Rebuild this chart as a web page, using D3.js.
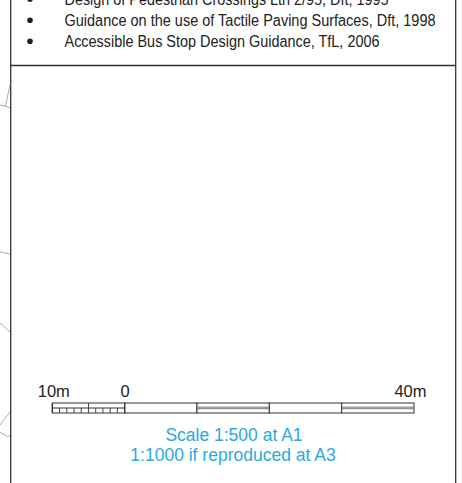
<!DOCTYPE html>
<html>
<head>
<meta charset="utf-8">
<script src="https://cdn.jsdelivr.net/npm/d3@7"></script>
<style>
html,body{margin:0;padding:0;background:#fff;}
svg{display:block;}
</style>
</head>
<body>
<svg id="c" width="462" height="483"></svg>
<script>
// ---- data ----
const notes = [
  "Design of Pedestrian Crossings Ltn 2/95, Dft, 1995",
  "Guidance on the use of Tactile Paving Surfaces, Dft, 1998",
  "Accessible Bus Stop Design Guidance, TfL, 2006"
];
const noteWidths = [324, 371, 315];
const scaleMajor = [0, 10, 20, 30, 40];
const segmentStyle = ["plain", "double", "plain", "double"];
const subTicks = [-10, -9, -8, -7, -6, -5, -4, -3, -2, -1, 0];
const scaleLabels = [{v: -10, t: "10m"}, {v: 0, t: "0"}, {v: 40, t: "40m"}];
const captionLines = ["Scale 1:500 at A1", "1:1000 if reproduced at A3"];

const svg = d3.select("#c");
const ink = "#333";

// frame
svg.append("line").attr("x1", 10.7).attr("x2", 10.7).attr("y1", 0).attr("y2", 483)
  .attr("stroke", ink).attr("stroke-width", 1.3);
svg.append("line").attr("x1", 455.7).attr("x2", 455.7).attr("y1", 0).attr("y2", 483)
  .attr("stroke", ink).attr("stroke-width", 1.3);
svg.append("line").attr("x1", 10.7).attr("x2", 455.7).attr("y1", 65.5).attr("y2", 65.5)
  .attr("stroke", ink).attr("stroke-width", 1.3);

// faint outside lines (background drawing fragments)
const frag = [
  [[10, 85], [5.5, 106], [0, 105]], [[5.5, 106], [10, 108]],
  [[0, 252], [10, 254]], [[0, 323], [10, 332]],
  [[10, 412], [0, 425]], [[0, 432], [8, 437], [10, 435]]
];
svg.selectAll("path.frag").data(frag).join("path").attr("class", "frag")
  .attr("d", d3.line()).attr("fill", "none").attr("stroke", "#a0a0a0").attr("stroke-width", 0.9);

// notes
const ny = d3.scaleLinear().domain([0, 1]).range([4.8, 25.8]);
const g = svg.append("g");
notes.forEach((t, i) => {
  g.append("circle").attr("cx", 30).attr("cy", ny(i) - 5.5).attr("r", 2.8).attr("fill", "#222");
  g.append("text").attr("x", 64.5).attr("y", ny(i))
    .attr("font-family", "Liberation Sans, Arial, sans-serif").attr("font-size", 16)
    .attr("fill", "#222")
    .attr("textLength", noteWidths[i]).attr("lengthAdjust", "spacingAndGlyphs")
    .text(t);
});

// scale bar
const x = d3.scaleLinear().domain([-10, 40]).range([52.3, 414]);
const barTop = 403, barBot = 413, barMid = 408;
const bar = svg.append("g").attr("stroke", ink).attr("stroke-width", 1).attr("fill", "none");

scaleMajor.slice(0, -1).forEach((v, i) => {
  const x0 = x(v), x1 = x(scaleMajor[i + 1]);
  bar.append("rect").attr("x", x0).attr("y", barTop).attr("width", x1 - x0).attr("height", barBot - barTop)
    .attr("fill", "#fff");
  if (segmentStyle[i] === "double") {
    bar.append("line").attr("x1", x0).attr("x2", x1).attr("y1", 407.2).attr("y2", 407.2)
      .attr("stroke", "#666").attr("stroke-width", 0.9);
    bar.append("line").attr("x1", x0).attr("x2", x1).attr("y1", 408.7).attr("y2", 408.7)
      .attr("stroke", "#666").attr("stroke-width", 0.9);
  }
});
bar.append("rect").attr("x", x(-10)).attr("y", barTop).attr("width", x(0) - x(-10)).attr("height", barBot - barTop)
  .attr("fill", "#fff");
bar.append("line").attr("x1", x(-10)).attr("x2", x(0)).attr("y1", barMid).attr("y2", barMid);
bar.selectAll("line.sub").data(subTicks).join("line").attr("class", "sub")
  .attr("x1", d => x(d)).attr("x2", d => x(d))
  .attr("y1", d => (d === -5 || d === -10 || d === 0) ? barTop : barMid)
  .attr("y2", barBot)
  .attr("stroke-width", d => (d === -10 || d === 0) ? 1.2 : 0.9);

// scale labels
svg.selectAll("text.sl").data(scaleLabels).join("text").attr("class", "sl")
  .attr("x", d => x(d.v) + (d.v === -10 ? 1.5 : d.v === 40 ? -3.5 : 0.5))
  .attr("y", 397)
  .attr("text-anchor", "middle")
  .attr("font-family", "Liberation Sans, Arial, sans-serif").attr("font-size", 16.5)
  .attr("fill", "#222")
  .text(d => d.t);

// caption
const capX = [234, 233], capY = [441, 460.5];
captionLines.forEach((t, i) => {
  svg.append("text").attr("x", capX[i]).attr("y", capY[i]).attr("text-anchor", "middle")
    .attr("font-family", "Liberation Sans, Arial, sans-serif").attr("font-size", 17.5)
    .attr("fill", "#29a9e1")
    .text(t);
});
</script>
</body>
</html>
